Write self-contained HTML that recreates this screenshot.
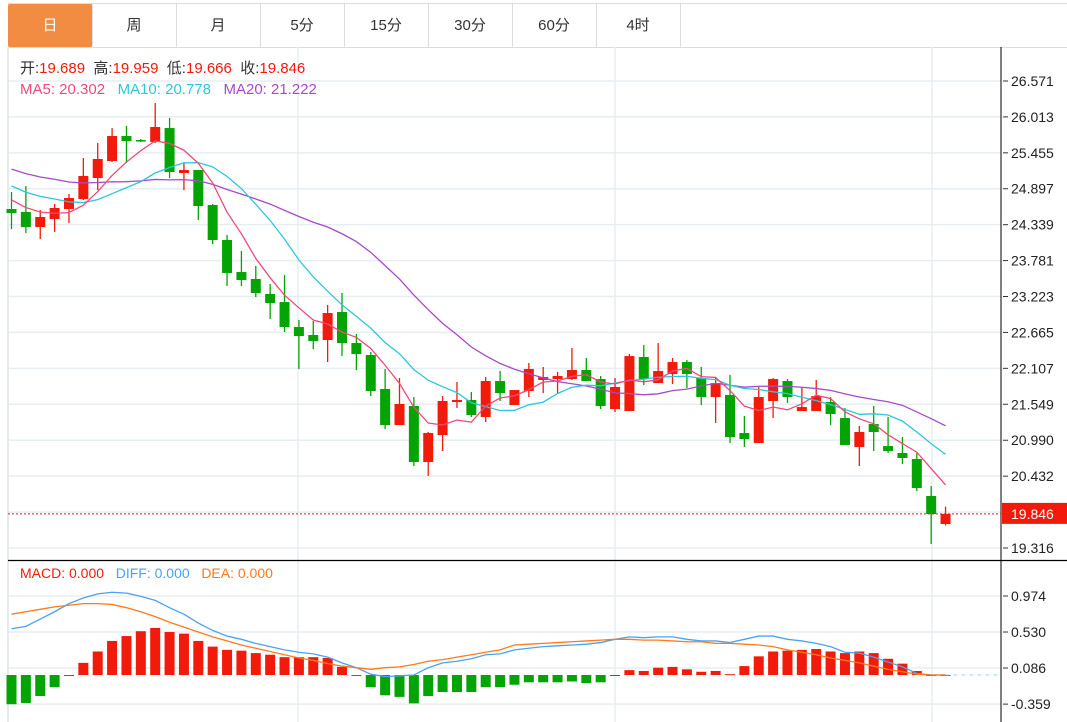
<!DOCTYPE html>
<html><head><meta charset="utf-8"><style>
body{margin:0;background:#fff;width:1067px;height:722px;overflow:hidden;font-family:"Liberation Sans","Noto Sans CJK SC",sans-serif}
.tabs{position:absolute;left:8px;top:3px;height:43px;width:1059px;border-top:1px solid #ddd;border-bottom:1px solid #ddd}
.tab{position:absolute;top:0;height:43px;width:84px;border-right:1px solid #ddd;text-align:center;line-height:43px;font-size:15px;color:#333}
.tab.on{background:#F28C42;color:#fff;border-radius:2px}
</style></head><body>
<div class="tabs">
<div class="tab on" style="left:0">日</div>
<div class="tab" style="left:84px">周</div>
<div class="tab" style="left:168px">月</div>
<div class="tab" style="left:252px">5分</div>
<div class="tab" style="left:336px">15分</div>
<div class="tab" style="left:420px">30分</div>
<div class="tab" style="left:504px">60分</div>
<div class="tab" style="left:588px">4时</div>
</div>
<svg id="c" width="1067" height="722" style="position:absolute;left:0;top:0"></svg>
<script>
const opens=[24.582,24.536,24.303,24.427,24.582,24.737,25.064,25.328,25.716,25.654,25.623,25.840,25.141,25.188,24.644,24.101,23.603,23.495,23.262,23.137,22.749,22.625,22.547,22.982,22.500,22.314,21.786,21.226,21.522,20.652,21.071,21.584,21.615,21.351,21.910,21.537,21.755,21.926,21.941,21.941,22.081,21.941,21.475,21.444,22.283,21.879,22.019,22.205,21.957,21.662,21.693,21.102,20.947,21.600,21.910,21.444,21.444,21.584,21.335,20.885,21.242,20.900,20.792,20.698,20.124,19.689];
const highs=[24.846,24.939,24.567,24.660,24.815,25.374,25.607,25.840,25.872,25.669,26.229,25.996,25.297,25.188,24.660,24.178,23.930,23.697,23.417,23.557,22.857,22.842,23.091,23.277,22.640,22.361,22.097,21.957,21.662,21.118,21.677,21.895,21.739,21.972,22.065,21.770,22.190,22.128,22.050,22.423,22.267,21.988,21.957,22.330,22.469,22.500,22.267,22.236,22.128,21.972,22.003,21.366,21.817,21.957,21.941,21.817,21.926,21.662,21.491,21.211,21.522,21.351,21.040,20.792,20.279,19.959];
const lows=[24.271,24.209,24.116,24.225,24.365,24.722,24.877,25.312,25.297,25.623,25.607,25.064,24.877,24.411,24.039,23.386,23.386,23.215,22.873,22.671,22.097,22.407,22.205,22.299,22.081,21.677,21.164,21.226,20.590,20.435,20.823,21.491,21.351,21.273,21.600,21.537,21.662,21.724,21.724,21.926,21.910,21.475,21.429,21.444,21.848,21.879,21.863,21.801,21.537,21.258,20.947,20.885,20.947,21.335,21.568,21.444,21.444,21.226,20.916,20.590,20.823,20.792,20.621,20.201,19.378,19.666];
const closes=[24.520,24.303,24.458,24.598,24.753,25.095,25.359,25.716,25.638,25.638,25.856,25.157,25.188,24.629,24.101,23.588,23.479,23.277,23.122,22.749,22.609,22.532,22.966,22.500,22.329,21.755,21.226,21.553,20.652,21.103,21.600,21.615,21.382,21.910,21.724,21.770,22.097,21.972,21.988,22.081,21.910,21.522,21.817,22.298,21.941,22.065,22.205,22.019,21.662,21.879,21.040,21.009,21.662,21.941,21.662,21.506,21.677,21.397,20.916,21.118,21.118,20.823,20.714,20.248,19.844,19.846];
const priorCloses=[25.7,25.5,25.3,25.6,25.4,25.2,25.5,25.6,25.4,25.4,25.3,25.1,25.0,25.2,25.2,24.9,24.8,24.7,24.7];
const macdHist=[-0.36,-0.345,-0.26,-0.15,-0.01,0.15,0.29,0.42,0.48,0.54,0.58,0.53,0.51,0.42,0.35,0.31,0.30,0.27,0.25,0.22,0.22,0.22,0.21,0.10,-0.01,-0.15,-0.25,-0.27,-0.35,-0.26,-0.21,-0.21,-0.21,-0.15,-0.15,-0.12,-0.09,-0.09,-0.09,-0.08,-0.10,-0.09,0.00,0.06,0.05,0.09,0.10,0.07,0.04,0.05,0.01,0.11,0.23,0.29,0.30,0.31,0.32,0.29,0.27,0.29,0.27,0.20,0.14,0.05,0.0,0.0];
const diffVals=[0.57,0.60,0.69,0.78,0.88,0.95,1.00,1.02,1.01,0.97,0.92,0.83,0.75,0.64,0.55,0.48,0.44,0.39,0.35,0.31,0.28,0.26,0.22,0.15,0.09,0.01,-0.02,-0.01,0.00,0.09,0.15,0.17,0.20,0.25,0.26,0.31,0.33,0.35,0.36,0.37,0.38,0.40,0.44,0.47,0.46,0.47,0.47,0.44,0.42,0.42,0.40,0.44,0.48,0.48,0.44,0.42,0.39,0.35,0.28,0.27,0.22,0.16,0.10,0.02,0,0];
const deaVals=[0.75,0.78,0.81,0.84,0.86,0.88,0.88,0.87,0.83,0.78,0.72,0.65,0.59,0.53,0.47,0.42,0.37,0.33,0.29,0.25,0.21,0.18,0.14,0.11,0.09,0.07,0.09,0.10,0.13,0.17,0.19,0.22,0.25,0.28,0.31,0.37,0.38,0.39,0.40,0.41,0.42,0.43,0.44,0.44,0.43,0.43,0.42,0.41,0.41,0.39,0.39,0.38,0.37,0.35,0.31,0.28,0.25,0.21,0.18,0.15,0.11,0.07,0.04,0.01,0,0];
const priceTicks=[26.571,26.013,25.455,24.897,24.339,23.781,23.223,22.665,22.107,21.549,20.990,20.432,19.874,19.316];
const macdTicks=[0.974,0.530,0.086,-0.359];
const lastPrice=19.846;

const svg=document.getElementById('c');
const NS='http://www.w3.org/2000/svg';
function xAt(i){return 11.5+i*14.37;}
function yP(p){return 548-(p-19.316)/0.015535;}
function yM(v){return 675-v/0.01233;}
function mk(tag,attrs,name){const e=document.createElementNS(NS,tag);for(const k in attrs)e.setAttribute(k,attrs[k]);


svg.appendChild(e);return e;}
const RED='#f21a0a',GREEN='#04a404',GRID='#e6edf3';
priceTicks.forEach(t=>{const y=yP(t);if(y>50)mk('line',{x1:8,x2:1001,y1:y,y2:y,stroke:GRID,'stroke-width':1.5},'price-gridline');});
macdTicks.forEach(t=>{const y=yM(t);mk('line',{x1:8,x2:1001,y1:y,y2:y,stroke:GRID,'stroke-width':1.5},'macd-gridline');});
[298,615,932].forEach(x=>{mk('line',{x1:x,x2:x,y1:47,y2:722,stroke:GRID,'stroke-width':1.5},'vertical-gridline');});
mk('line',{x1:8,x2:8,y1:47,y2:722,stroke:'#dde4ea','stroke-width':1.5},'left-border');
mk('line',{x1:8,x2:1067,y1:560.5,y2:560.5,stroke:'#000','stroke-width':1.2},'panel-separator');
mk('line',{x1:1001,x2:1001,y1:47,y2:722,stroke:'#000','stroke-width':1},'y-axis-line');
priceTicks.forEach(t=>{const y=yP(t);if(Math.abs(t-19.874)<0.001)return;
mk('line',{x1:1003,x2:1008,y1:y,y2:y,stroke:'#333'},'price-tick');
const tx=mk('text',{x:1011,y:y+5,'font-size':14,fill:'#222'},'price-tick-label');tx.textContent=t.toFixed(3);});
macdTicks.forEach(t=>{const y=yM(t);
mk('line',{x1:1003,x2:1008,y1:y,y2:y,stroke:'#333'},'macd-tick');
const tx=mk('text',{x:1011,y:y+5,'font-size':14,fill:'#222'},'macd-tick-label');tx.textContent=t.toFixed(3);});
for(let i=0;i<opens.length;i++){const up=closes[i]>=opens[i];const c=up?RED:GREEN;const x=xAt(i);
mk('line',{x1:x,x2:x,y1:yP(highs[i]),y2:yP(lows[i]),stroke:c,'stroke-width':1.3},'candle-wick');
const t=yP(Math.max(opens[i],closes[i])),b=yP(Math.min(opens[i],closes[i]));
mk('rect',{x:x-5,y:t,width:10,height:Math.max(b-t,1.5),fill:c},'candle-body');}
const all=priorCloses.concat(closes);
function ma(n){const r=[];for(let i=0;i<closes.length;i++){const j=i+priorCloses.length;let s=0;for(let k=j-n+1;k<=j;k++)s+=all[k];r.push(s/n);}return r;}
function poly(vals,fy,col,name){mk('polyline',{points:vals.map((v,i)=>xAt(i)+','+fy(v)).join(' '),fill:'none',stroke:col,'stroke-width':1.3},name);}
poly(ma(20),yP,'#a64ac9','ma20-line');
poly(ma(10),yP,'#2ec6dc','ma10-line');
poly(ma(5),yP,'#ee4b7a','ma5-line');
const ly=yP(lastPrice);
mk('line',{x1:8,x2:1001,y1:ly,y2:ly,stroke:RED,'stroke-dasharray':'2,2','stroke-width':1},'last-price-line');
mk('rect',{x:1002,y:ly-11,width:65,height:21,fill:RED},'last-price-box');
const lt=mk('text',{x:1011,y:ly+5,'font-size':14,fill:'#fff'},'last-price-label');lt.textContent=lastPrice.toFixed(3);
for(let i=0;i<macdHist.length;i++){const v=macdHist[i];const x=xAt(i);const y0=yM(0),y1=yM(v);
mk('rect',{x:x-5,y:Math.min(y0,y1),width:10,height:Math.max(Math.abs(y1-y0),1),fill:v>=0?RED:GREEN},'macd-bar');}
mk('line',{x1:xAt(65),x2:1001,y1:yM(0),y2:yM(0),stroke:'#9fd3ef','stroke-dasharray':'4,4'},'macd-zero-line');
poly(diffVals,yM,'#4aa3f0','diff-line');
poly(deaVals,yM,'#ff7a1a','dea-line');
</script>
<div style="position:absolute;left:20px;top:57px;font-size:15px;color:#333">开:<span style="color:#f21a0a">19.689</span>&nbsp; 高:<span style="color:#f21a0a">19.959</span>&nbsp; 低:<span style="color:#f21a0a">19.666</span>&nbsp; 收:<span style="color:#f21a0a">19.846</span></div>
<div style="position:absolute;left:20px;top:81px;font-size:15px"><span style="color:#ee4b7a">MA5: 20.302</span>&nbsp;&nbsp; <span style="color:#2ec6dc">MA10: 20.778</span>&nbsp;&nbsp; <span style="color:#a64ac9">MA20: 21.222</span></div>
<div style="position:absolute;left:20px;top:565px;font-size:14px"><span style="color:#f21a0a">MACD: 0.000</span>&nbsp;&nbsp; <span style="color:#4aa3f0">DIFF: 0.000</span>&nbsp;&nbsp; <span style="color:#ff7a1a">DEA: 0.000</span></div>
</body></html>
